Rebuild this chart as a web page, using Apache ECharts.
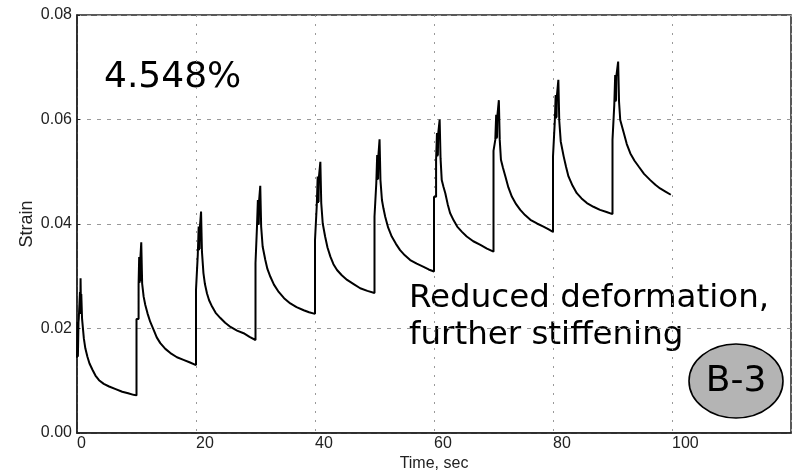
<!DOCTYPE html>
<html>
<head>
<meta charset="utf-8">
<script src="https://cdn.jsdelivr.net/npm/echarts@6/dist/echarts.min.js"></script>
<style>
  html, body { margin: 0; padding: 0; background: #fff; }
  #chart { width: 793px; height: 472px; }
</style>
</head>
<body>
<div id="chart"></div>
<script>
// strain vs time, one array per 10 s load cycle: [time (s), strain]
const cycle1 = [[0,0.0144],[0.1,0.0213],[0.15,0.0146],[0.25,0.0212],[0.3,0.0219],[0.45,0.0222],[0.5,0.0270],[0.55,0.0228],[0.6,0.0296],[0.68,0.0230],[0.72,0.0266],[0.85,0.0219],[1.0,0.0216],[1.15,0.0181],[1.4,0.0162],[1.75,0.0146],[2.1,0.0133],[2.6,0.0121],[3.1,0.0110],[3.7,0.0101],[4.5,0.0094],[5.4,0.0089],[6.5,0.0084],[7.6,0.0079],[8.6,0.0076],[9.5,0.0073],[10.0,0.0072]];
const cycle2 = [[10.0,0.0218],[10.35,0.0218],[10.35,0.0285],[10.45,0.0337],[10.5,0.0287],[10.55,0.0336],[10.6,0.0290],[10.65,0.0335],[10.8,0.0365],[10.95,0.0286],[11.1,0.0284],[11.2,0.0261],[11.48,0.0245],[11.85,0.0229],[12.3,0.0213],[12.9,0.0197],[13.4,0.0183],[14.0,0.0172],[14.85,0.0161],[15.7,0.0153],[16.8,0.0145],[17.9,0.0140],[19.0,0.0135],[20.0,0.0130]];
const cycle3 = [[20.0,0.0274],[20.3,0.0274],[20.3,0.0341],[20.45,0.0395],[20.5,0.0350],[20.55,0.0394],[20.6,0.0352],[20.65,0.0393],[20.85,0.0424],[21.0,0.0347],[21.2,0.0345],[21.25,0.0306],[21.5,0.0285],[21.85,0.0267],[22.2,0.0254],[22.7,0.0242],[23.3,0.0230],[24.1,0.0220],[24.9,0.0211],[25.8,0.0203],[26.9,0.0196],[28.0,0.0191],[29.0,0.0184],[30.0,0.0178]];
const cycle4 = [[30.0,0.0325],[30.25,0.0325],[30.25,0.0395],[30.4,0.0446],[30.45,0.0398],[30.5,0.0445],[30.55,0.0400],[30.6,0.0444],[30.8,0.0473],[30.95,0.0395],[31.1,0.0393],[31.2,0.0357],[31.65,0.0331],[32.0,0.0314],[32.5,0.0299],[33.1,0.0284],[33.9,0.0270],[34.8,0.0258],[35.85,0.0248],[36.9,0.0241],[38.1,0.0235],[39.0,0.0231],[40.0,0.0228]];
const cycle5 = [[40.0,0.0369],[40.3,0.0369],[40.3,0.0436],[40.45,0.0491],[40.5,0.0440],[40.55,0.0490],[40.6,0.0442],[40.65,0.0489],[40.9,0.0519],[41.05,0.0440],[41.2,0.0438],[41.3,0.0401],[41.7,0.0376],[42.1,0.0355],[42.6,0.0337],[43.1,0.0323],[43.7,0.0312],[44.5,0.0302],[45.4,0.0293],[46.5,0.0285],[47.6,0.0277],[48.8,0.0272],[50.0,0.0268]];
const cycle6 = [[50.0,0.0414],[50.3,0.0414],[50.3,0.0478],[50.45,0.0532],[50.5,0.0484],[50.55,0.0531],[50.6,0.0486],[50.65,0.0530],[50.85,0.0562],[51.0,0.0484],[51.15,0.0482],[51.25,0.0446],[51.5,0.0430],[51.8,0.0414],[52.3,0.0393],[52.9,0.0376],[53.6,0.0362],[54.3,0.0350],[55.1,0.0340],[56.0,0.0331],[57.1,0.0324],[58.25,0.0318],[59.1,0.0313],[60.0,0.0309]];
const cycle7 = [[60.0,0.0452],[60.35,0.0452],[60.35,0.0523],[60.5,0.0574],[60.55,0.0529],[60.6,0.0573],[60.65,0.0531],[60.7,0.0572],[60.95,0.0600],[61.1,0.0526],[61.25,0.0524],[61.3,0.0484],[61.6,0.0471],[61.9,0.0459],[62.3,0.0438],[62.7,0.0421],[63.3,0.0407],[63.9,0.0395],[64.7,0.0385],[65.5,0.0376],[66.6,0.0367],[67.8,0.0360],[68.9,0.0353],[70.0,0.0347]];
const cycle8 = [[70.0,0.0540],[70.3,0.0540],[70.3,0.0561],[70.45,0.0609],[70.5,0.0563],[70.55,0.0608],[70.6,0.0565],[70.65,0.0607],[70.9,0.0637],[71.05,0.0561],[71.2,0.0559],[71.25,0.0523],[71.6,0.0507],[72.0,0.0491],[72.5,0.0470],[73.1,0.0452],[73.8,0.0438],[74.5,0.0427],[75.3,0.0417],[76.2,0.0408],[77.3,0.0401],[78.4,0.0395],[79.2,0.0390],[80.0,0.0385]];
const cycle9 = [[80.0,0.0529],[80.3,0.0529],[80.3,0.0596],[80.45,0.0647],[80.5,0.0602],[80.55,0.0646],[80.6,0.0604],[80.65,0.0645],[80.9,0.0676],[81.05,0.0598],[81.2,0.0596],[81.3,0.0558],[81.8,0.0529],[82.2,0.0509],[82.6,0.0491],[83.3,0.0473],[84.0,0.0459],[84.8,0.0449],[85.7,0.0440],[86.8,0.0433],[87.9,0.0427],[89.0,0.0423],[90.0,0.0419]];
const cycle10 = [[90.0,0.0561],[90.3,0.0561],[90.3,0.0628],[90.45,0.0685],[90.5,0.0634],[90.55,0.0684],[90.6,0.0636],[90.65,0.0683],[90.95,0.0711],[91.1,0.0634],[91.25,0.0632],[91.3,0.0599],[91.9,0.0574],[92.4,0.0553],[93.0,0.0535],[93.7,0.0521],[94.4,0.0510],[95.3,0.0496],[96.35,0.0484],[97.2,0.0475],[98.0,0.0468],[98.9,0.0462],[99.8,0.0456]];

const allCycles = [cycle1, cycle2, cycle3, cycle4, cycle5, cycle6, cycle7, cycle8, cycle9, cycle10];

const strainLabel = '4.548%';
const noteLines = ['Reduced deformation,', 'further stiffening'];
const badge = 'B-3';

const chart = echarts.init(document.getElementById('chart'));
const axisFont = 'Liberation Sans, Arial, sans-serif';

const options = {
    animation: false,
    grid: {
        left: 77,
        right: 2,
        top: 15,
        bottom: 39,
        show: true,
        borderColor: '#222',
        borderWidth: 1.5,
        containLabel: false,
        outerBoundsMode: 'none'
    },
    xAxis: {
        type: 'value',
        min: 0,
        max: 120,
        interval: 20,
        name: 'Time, sec',
        nameLocation: 'middle',
        nameGap: 23,
        nameMoveOverlap: false,
        nameTextStyle: { color: '#222', fontSize: 16, fontFamily: axisFont },
        axisLine: { show: true, lineStyle: { color: '#222', width: 1.5 } },
        axisTick: { show: false },
        axisLabel: {
            color: '#222',
            fontSize: 16,
            fontFamily: axisFont,
            align: 'left',
            margin: 3,
            formatter: function (v) { return v >= 120 ? '' : String(v); }
        },
        splitLine: { show: true, lineStyle: { color: '#999', type: [2, 7], width: 1 } }
    },
    yAxis: {
        type: 'value',
        min: 0,
        max: 0.08,
        interval: 0.02,
        name: 'Strain',
        nameLocation: 'middle',
        nameRotate: 90,
        nameGap: 41,
        nameMoveOverlap: false,
        nameTextStyle: { color: '#222', fontSize: 18, fontFamily: axisFont },
        axisLine: { show: true, lineStyle: { color: '#222', width: 1.5 } },
        axisTick: { show: true, inside: true, length: 3, lineStyle: { color: '#222' } },
        axisLabel: {
            color: '#222',
            fontSize: 16,
            fontFamily: axisFont,
            margin: 5,
            formatter: function (v) { return v.toFixed(2); }
        },
        splitLine: { show: true, lineStyle: { color: '#999', type: [4, 6], width: 1 } }
    },
    series: [{
        type: 'line',
        data: [].concat.apply([], allCycles),
        showSymbol: false,
        lineStyle: { color: '#000', width: 2 },
        z: 3
    }],
    graphic: [
        {
            type: 'text',
            left: 104,
            top: 60,
            style: { text: strainLabel, fontSize: 36, fontFamily: 'DejaVu Sans', fill: '#000' }
        },
        {
            type: 'text',
            left: 409,
            top: 280,
            style: { text: noteLines.join('\n'), fontSize: 32.5, lineHeight: 37, fontFamily: 'DejaVu Sans', fill: '#000' }
        },
        {
            type: 'ellipse',
            shape: { cx: 736, cy: 381, rx: 47, ry: 37 },
            style: { fill: '#b4b4b4', stroke: '#000', lineWidth: 1.6 },
            z: 10
        },
        {
            type: 'text',
            x: 736,
            y: 382,
            style: { text: badge, fontSize: 36, fontFamily: 'DejaVu Sans', fill: '#000', align: 'center', verticalAlign: 'middle' },
            z: 11
        }
    ]
};
chart.setOption(options);
</script>
</body>
</html>
